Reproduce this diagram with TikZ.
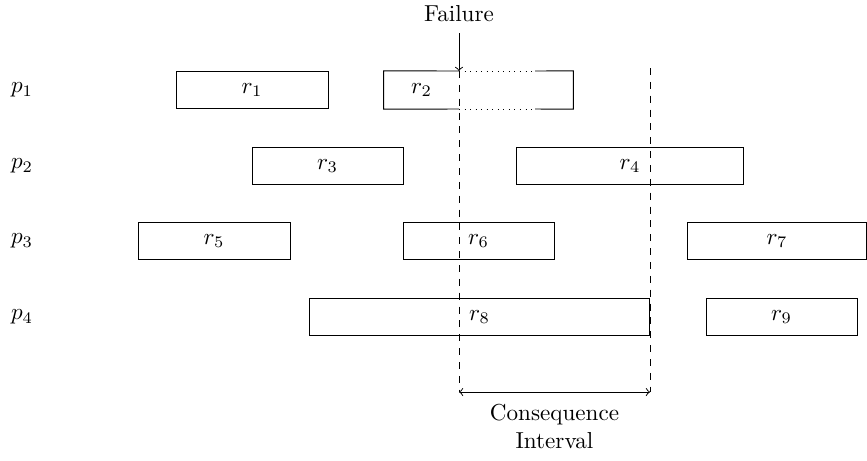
\documentclass[tikz,border=0pt]{standalone}
\begin{document}
\begin{tikzpicture}[x=0.433pt,y=-0.433pt,
  job/.style={draw,rectangle,minimum height=16.2pt,inner sep=0pt,line width=0.4pt},
  plabel/.style={inner sep=0pt},
  rlabel/.style={inner sep=0pt},
  guide/.style={dashed,line width=0.4pt},
  >=to]
\useasboundingbox (0,0) rectangle (867,460);
% process labels
\node[plabel] (p1) at (22,90) {$p_1$};
\node[plabel] (p2) at (22,166) {$p_2$};
\node[plabel] (p3) at (22,241) {$p_3$};
\node[plabel] (p4) at (22,317) {$p_4$};
% jobs
\node[job,minimum width=65.8pt] (r1) at (252,90) {$r_1$};
\node[job,minimum width=65.4pt] (r3) at (327.5,166) {$r_3$};
\node[job,minimum width=97.9pt] (r4) at (630,166) {$r_4$};
\node[job,minimum width=65.8pt] (r5) at (214,241) {$r_5$};
\node[job,minimum width=65.4pt] (r6) at (478.5,241) {$r_6$};
\node[job,minimum width=77.9pt] (r7) at (777,241) {$r_7$};
\node[job,minimum width=147.6pt] (r8) at (479.5,317) {$r_8$};
\node[job,minimum width=65.4pt] (r9) at (781.5,317) {$r_9$};
% r2 (partially executed)
\node[rectangle,minimum width=81.8pt,minimum height=16.2pt,inner sep=0pt] (r2box) at (478.5,90) {};
\node[rlabel] (r2) at (421.5,90) {$r_2$};
\coordinate (ft) at (459,71);
\coordinate (fb) at (459,109);
\coordinate (dt) at (535,71);
\coordinate (db) at (535,109);
\draw[line width=0.4pt] (ft) -- (r2box.north west) -- (r2box.south west) -- (fb);
\draw[line width=0.4pt] (dt) -- (r2box.north east) -- (r2box.south east) -- (db);
\draw[dotted,line width=0.4pt] (ft) -- (dt);
\draw[dotted,line width=0.4pt] (fb) -- (db);
% failure
\node[inner sep=0pt] (fail) at (459,14) {Failure};
\coordinate (fa) at (459,33);
\draw[->,line width=0.4pt] (fa) -- (ft);
% consequence interval
\coordinate (L2) at (459,392);
\coordinate (R1) at (650,68);
\coordinate (R2) at (650,392);
\draw[guide] (ft) -- (L2);
\draw[guide] (R1) -- (R2);
\draw[<->,line width=0.4pt] (L2) -- (R2);
\node[align=center,inner sep=0pt,anchor=north] (ci) at (554.5,404) {Consequence\\Interval};
\end{tikzpicture}
\end{document}
